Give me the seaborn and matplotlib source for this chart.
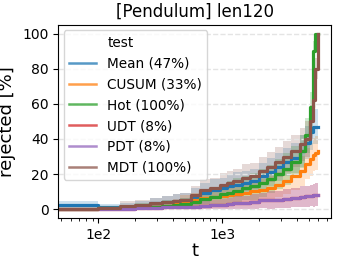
"""
Rejection rate over time for each test, Pendulum environment (len120).
"""
import matplotlib

matplotlib.use("Agg")
import matplotlib.pyplot as plt
import numpy as np
import pandas as pd
import seaborn as sns
from matplotlib.lines import Line2D
from matplotlib.ticker import FixedLocator, FixedFormatter

# Time grid (log-spaced sample points).
t = [48, 70, 100, 150, 200, 260, 330, 400, 460, 560, 665, 800, 964, 1100,
     1230, 1450, 1680, 2000, 2300, 2700, 3100, 3600, 4250, 4700, 5130, 5400,
     5650, 5950]

tests = ["Mean (47%)", "CUSUM (33%)", "Hot (100%)", "UDT (8%)", "PDT (8%)", "MDT (100%)"]

# Mean rejection rate [%]
mean_rej = [2.3, 2.3, 1.0, 1.5, 2, 3.5, 4, 4.5, 5, 7, 9, 11, 12, 13,
            14, 15, 16, 19, 21, 24, 27, 29, 33, 38, 44, 47, 47, 47]
cusum_rej = [0.3, 0.3, 0.5, 0.8, 1, 1.5, 2, 3, 4.7, 5.5, 6.6, 7, 7.6, 8,
             8.5, 9.5, 10.4, 11, 12.3, 14, 16, 19, 22, 26, 28.4, 31, 32, 33]
hot_rej = [0.3, 0.3, 0.5, 1, 1.3, 1.5, 2, 2.5, 3, 4, 6, 7, 8.5, 9.5,
           10.5, 12, 13, 15, 17, 20, 23, 27, 33, 42, 58, 90, 100, 100]
udt_rej = [0, 0, 0, 0.3, 0.5, 0.7, 1, 1, 1, 1.5, 1.7, 2.3, 2.5, 3,
           3.5, 3.8, 4.2, 5, 5.3, 5.5, 6, 6.5, 7, 7.5, 7.8, 8, 8.3, 8.3]
pdt_rej = [0, 0, 0, 0.3, 0.5, 0.7, 1, 1, 1, 1.5, 1.7, 2.3, 2.5, 3,
           3.5, 3.8, 4.2, 5, 5.3, 5.5, 6, 6.5, 7, 7.5, 7.8, 8, 8.3, 8.3]
mdt_rej = [0.3, 0.3, 0.5, 2, 2.5, 3.5, 4, 4.5, 5, 8, 11, 12, 14, 15,
           16, 18, 19, 22, 24, 27, 30, 33, 37, 40, 50, 62, 80, 100]

# Half-width of the confidence band [%]
mean_err = [2.5, 2.5, 2, 2, 2.5, 3, 3.5, 4, 4.5, 5, 6, 6, 6, 6.5,
            7, 7, 7, 7.5, 8, 8, 8, 8.5, 9, 9.5, 10, 10, 10, 10]
cusum_err = [0.5, 0.5, 1, 1, 1.5, 2, 2.5, 3, 3.5, 4, 4.5, 4.5, 5, 5,
             5.5, 5.5, 6, 6, 6.5, 7, 7.5, 8, 8.5, 9, 9.5, 9.5, 9.5, 9.5]
hot_err = [0.5, 0.5, 1, 1.5, 2, 2.5, 3, 3, 3.5, 4, 5, 5.5, 6, 6.5,
           7, 7, 7.5, 8, 8, 8.5, 9, 9, 9.5, 10, 9, 6, 2, 2]
udt_err = [0.5, 0.5, 0.5, 1, 1, 1.5, 1.5, 2, 2, 2.5, 3, 3, 3.5, 3.5,
           4, 4, 4.5, 4.5, 5, 5, 5.5, 5.5, 6, 6, 6, 6.5, 6.5, 6.5]
pdt_err = udt_err
mdt_err = [0.5, 0.5, 1, 2.5, 3, 3, 3.5, 4, 4.5, 5, 6, 6, 6.5, 6.5,
           7, 7.5, 7.5, 8, 8.5, 8.5, 9, 9, 9.5, 10, 10, 9, 6, 2]

colors = ["#1f77b4", "#ff7f0e", "#2ca02c", "#d62728", "#9467bd", "#8c564b"]

series = [mean_rej, cusum_rej, hot_rej, udt_rej, pdt_rej, mdt_rej]
errors = [mean_err, cusum_err, hot_err, udt_err, pdt_err, mdt_err]

df = pd.concat(
    [pd.DataFrame({"t": t, "rejected": s, "test": name}) for name, s in zip(tests, series)],
    ignore_index=True,
)

fig, ax = plt.subplots(figsize=(3.38, 2.62), dpi=100)
fig.subplots_adjust(left=0.172, right=0.979, top=0.905, bottom=0.168)

for s, e, c in zip(series, errors, colors):
    s = np.array(s)
    e = np.array(e)
    ax.fill_between(t, np.clip(s - e, 0, 100), np.clip(s + e, 0, 100),
                    step="post", color=c, alpha=0.22, linewidth=0)

sns.lineplot(data=df, x="t", y="rejected", hue="test", palette=colors,
             linewidth=2.3, drawstyle="steps-post", legend=False, ax=ax)

ax.set_xscale("log")
ax.set_xlim(47.5, 7570)
ax.set_ylim(-5, 105)
ax.set_yticks([0, 20, 40, 60, 80, 100])
ax.xaxis.set_major_locator(FixedLocator([100, 1000]))
ax.xaxis.set_major_formatter(FixedFormatter(["1e2", "1e3"]))
ax.tick_params(labelsize=10)
ax.grid(axis="y", linestyle="--", color="#e4e4e4", linewidth=1)

ax.set_title("[Pendulum] len120", fontsize=12)
ax.set_xlabel("t", fontsize=13, labelpad=0)
ax.set_ylabel("rejected [%]", fontsize=13)

# old-style seaborn legend: hue name as a blank first entry
handles = [Line2D([], [], color="none")]
handles += [Line2D([], [], color=c, linewidth=1.8, alpha=0.75) for c in colors]
ax.legend(handles, ["test"] + tests, loc="upper left", fontsize=9.8,
          labelspacing=0.5, borderaxespad=0.4)

fig.savefig("out.png", dpi=100)
